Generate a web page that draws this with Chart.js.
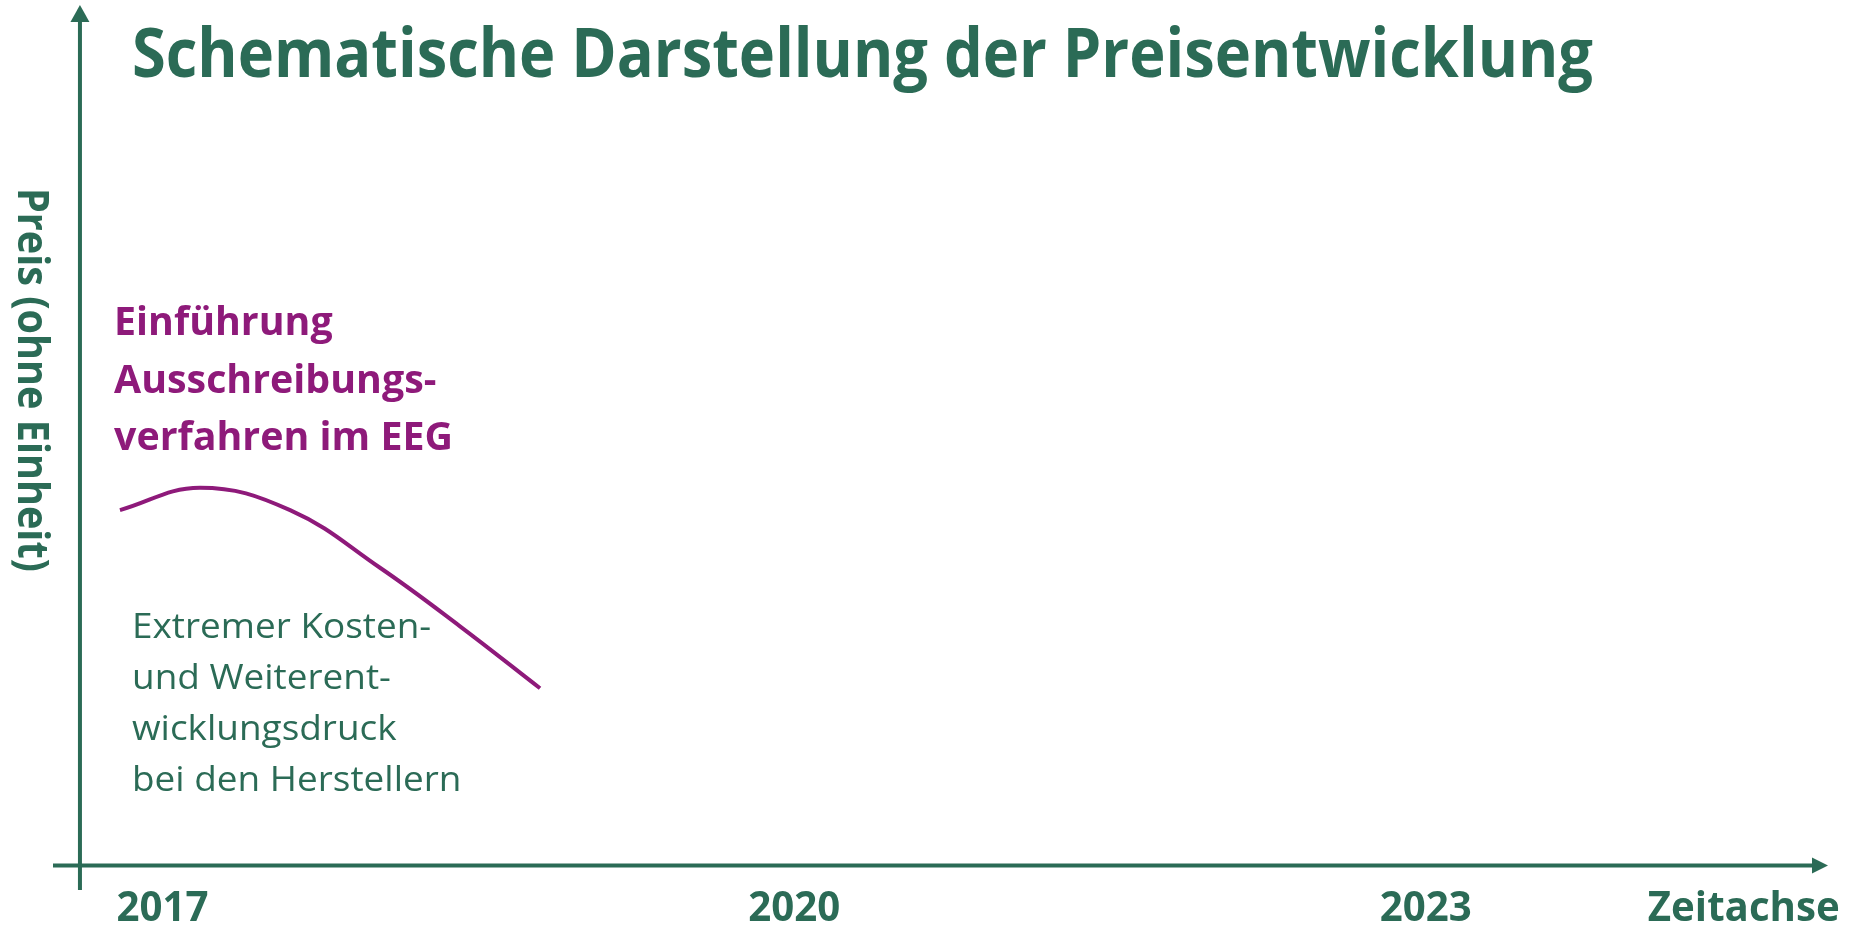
<!DOCTYPE html>
<html><head><meta charset="utf-8">
<script src="https://cdn.jsdelivr.net/npm/chart.js@4.4.1/dist/chart.umd.min.js"></script>
<style>html,body{margin:0;padding:0;background:#fff;overflow:hidden;}</style>
</head><body>
<canvas id="c" width="1856" height="927"></canvas>
<script>
// ---- data ----
const chartTitle = 'Schematische Darstellung der Preisentwicklung';
const yAxisLabel = 'Preis (ohne Einheit)';
const tickValues = [2017, 2020, 2023, 2024.51];
const tickLabels = ['2017', '2020', '2023', 'Zeitachse'];
const curveYears  = [2016.798, 2017.178, 2017.606, 2018.033, 2018.413, 2018.793];
const curveValues = [41.3, 43.9, 41.3, 34.6, 27.8, 20.6];
const noteEvent = ['Einführung', 'Ausschreibungs-', 'verfahren im EEG'];
const notePressure = ['Extremer Kosten-', 'und Weiterent-', 'wicklungsdruck', 'bei den Herstellern'];
const xRange = [2016.48, 2024.91];
const yRange = [0, 100];
const yAxisAtYear = 2016.608;

// ---- style ----
const GREEN = '#2B6B56', PURPLE = '#8E1A7A';
const FAMILY = '"Open Sans", sans-serif';
const mctx = document.createElement('canvas').getContext('2d');
function measure(text, weight, size) { mctx.font = `${weight} ${size}px ${FAMILY}`; return mctx.measureText(text); }
function capRatio(weight) { return measure('H', weight, 100).actualBoundingBoxAscent / 100; }
function fitSpec(refText, weight, cap, width) {
  const size = cap / capRatio(weight);
  const sx = width / measure(refText, weight, size).width;
  return {size, sx, weight};
}
function drawLines(ctx, lines, x, baselines, spec, color, align) {
  ctx.save();
  ctx.fillStyle = color;
  ctx.font = `${spec.weight} ${spec.size}px ${FAMILY}`;
  ctx.textAlign = align || 'left';
  ctx.textBaseline = 'alphabetic';
  lines.forEach((t, i) => {
    ctx.save(); ctx.translate(x, baselines[i]); ctx.scale(spec.sx, 1); ctx.fillText(t, 0, 0); ctx.restore();
  });
  ctx.restore();
}

const tickSize = 92 / measure('2017', 'bold', 100).width * 100;
const tickPad = 24;
const axisY = 865.5;

const overlay = {
  id: 'overlay',
  afterDraw(chart) {
    const ctx = chart.ctx, a = chart.chartArea;
    const xs = chart.scales.x, ys = chart.scales.y;
    const y0 = ys.getPixelForValue(0);
    const x0 = xs.getPixelForValue(yAxisAtYear);
    ctx.save();
    ctx.strokeStyle = GREEN; ctx.fillStyle = GREEN; ctx.lineWidth = 4;
    // x axis
    ctx.beginPath(); ctx.moveTo(a.left, y0); ctx.lineTo(a.right - 14, y0); ctx.stroke();
    ctx.beginPath(); ctx.moveTo(a.right, y0); ctx.lineTo(a.right - 16, y0 - 8); ctx.lineTo(a.right - 16, y0 + 8); ctx.closePath(); ctx.fill();
    // y axis
    ctx.beginPath(); ctx.moveTo(x0, y0 + 24.5); ctx.lineTo(x0, a.top + 15); ctx.stroke();
    ctx.beginPath(); ctx.moveTo(x0, a.top); ctx.lineTo(x0 - 9.5, a.top + 17); ctx.lineTo(x0 + 9.5, a.top + 17); ctx.closePath(); ctx.fill();
    ctx.restore();

    // title
    drawLines(ctx, [chartTitle], 132, [77], fitSpec(chartTitle, 'bold', 49, 1461), GREEN);
    // y label (reads top to bottom)
    const ySpec = fitSpec(yAxisLabel, 'bold', 31, 384);
    ctx.save(); ctx.translate(18, 380); ctx.rotate(Math.PI / 2);
    drawLines(ctx, [yAxisLabel], 0, [0], ySpec, GREEN, 'center');
    ctx.restore();
    // annotations
    drawLines(ctx, noteEvent, 114, [335, 393, 450], fitSpec(noteEvent[2], 'bold', 28, 339), PURPLE);
    drawLines(ctx, notePressure, 132, [638, 689, 740, 791], fitSpec(notePressure[1], 'normal', 25, 259), GREEN);
  }
};

new Chart(document.getElementById('c'), {
  type: 'line',
  data: {
    datasets: [{
      data: curveYears.map((x, i) => ({x, y: curveValues[i]})),
      borderColor: PURPLE, borderWidth: 4, pointRadius: 0, fill: false,
      tension: 0.4, borderCapStyle: 'butt'
    }]
  },
  options: {
    responsive: false, animation: false, devicePixelRatio: 1,
    layout: { padding: { left: 53, right: 28, top: 5, bottom: 927 - axisY - 2 * tickPad - tickSize } },
    plugins: { legend: { display: false }, tooltip: { enabled: false }, title: { display: false } },
    scales: {
      x: {
        type: 'linear', position: 'bottom', min: xRange[0], max: xRange[1],
        grid: { display: false, drawTicks: false }, border: { display: false },
        afterBuildTicks: s => { s.ticks = tickValues.map(v => ({value: v})); },
        afterFit: s => { s.paddingLeft = 0; s.paddingRight = 0; },
        ticks: {
          autoSkip: false, maxRotation: 0, minRotation: 0, padding: tickPad, color: GREEN,
          font: { family: FAMILY, weight: 'bold', size: tickSize, lineHeight: 1 },
          callback: v => { const i = tickValues.indexOf(v); return i >= 0 ? tickLabels[i] : ''; }
        }
      },
      y: { display: false, min: yRange[0], max: yRange[1] }
    }
  },
  plugins: [overlay]
});
</script>
</body></html>
